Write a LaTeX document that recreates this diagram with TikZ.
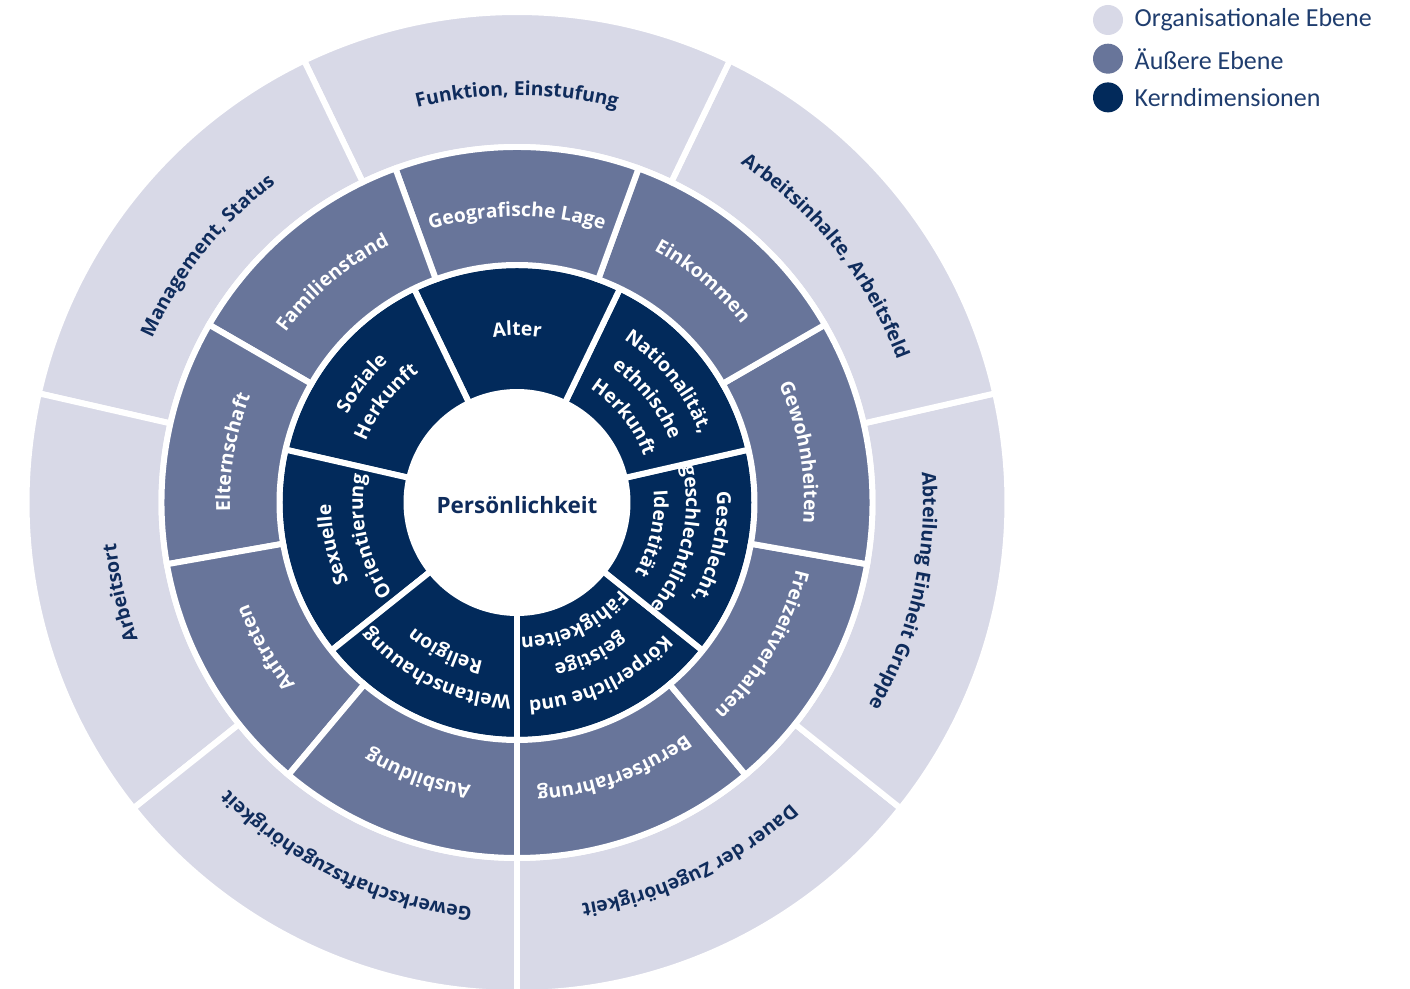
\documentclass[tikz,border=0pt]{standalone}
\usepackage{fontspec}
\setmainfont{Open Sans}
\newfontfamily\legendfont{Carlito}
\usetikzlibrary{positioning,decorations.text}

\definecolor{orgfill}{HTML}{D8D9E7}
\definecolor{outfill}{HTML}{68759A}
\definecolor{corefill}{HTML}{022A5B}
\definecolor{darktext}{HTML}{0F2C5C}
\definecolor{legendtext}{HTML}{1F3D6E}

\newcommand{\labelfont}{\bfseries\fontsize{11}{13}\selectfont}

\tikzset{
  slice/.style={draw=white,line width=3.4pt},
  legdot/.style={shape=circle,inner sep=0pt,minimum size=0.6cm},
  legtext/.style={font=\legendfont\fontsize{14.8}{16}\selectfont,
    text=legendtext,inner sep=0pt}
}

\newcommand{\ringslice}[5]{%
  \filldraw[slice,fill=#1] (#2:#4) arc[start angle=#2,end angle=#3,radius=#4]
    -- (#3:#5) arc[start angle=#3,end angle=#2,radius=#5] -- cycle;}
\newcommand{\arclabel}[4]{%
  \path[decorate,decoration={text along path,text align=center,
      text color=#1,text={|\labelfont|#4}}]
    (#2+70:#3) arc[start angle=#2+70,end angle=#2-70,radius=#3];}

\begin{document}
\begin{tikzpicture}[x=0.02cm,y=0.02cm]
  \useasboundingbox (-517,-486.5) rectangle (893,502.5);

  \foreach \a in {0,...,6} {
    \pgfmathsetmacro\s{-90+\a*360/7}
    \pgfmathsetmacro\e{\s+360/7}
    \ringslice{corefill}{\s}{\e}{110.5}{237.5}
    \ringslice{orgfill}{\s}{\e}{355.5}{490.5}
  }
  \foreach \a in {0,...,8} {
    \pgfmathsetmacro\s{-90+\a*40}
    \ringslice{outfill}{\s}{\s+40}{237.5}{355.5}
  }

  \node (core) [font=\bfseries\fontsize{12.8}{15}\selectfont,text=darktext]
    at (0,-3) {Persönlichkeit};

  \arclabel{darktext}{90}{407}{Funktion, Einstufung}
  \arclabel{darktext}{38.57}{406}{Arbeitsinhalte, Arbeitsfeld}
  \arclabel{darktext}{-12.86}{406}{Abteilung Einheit Gruppe}
  \arclabel{darktext}{-64.29}{407}{Dauer der Zugehörigkeit}
  \arclabel{darktext}{-115.71}{407}{Gewerkschaftszugehörigkeit}
  \arclabel{darktext}{192.86}{403}{Arbeitsort}
  \arclabel{darktext}{141.43}{400}{Management, Status}

  \arclabel{white}{90}{286}{Geografische Lage}
  \arclabel{white}{50}{287}{Einkommen}
  \arclabel{white}{10}{287}{Gewohnheiten}
  \arclabel{white}{-30}{287}{Freizeitverhalten}
  \arclabel{white}{-70}{287}{Berufserfahrung}
  \arclabel{white}{-110}{287}{Ausbildung}
  \arclabel{white}{-150}{287}{Auftreten}
  \arclabel{white}{170}{287}{Elternschaft}
  \arclabel{white}{130}{287}{Familienstand}

  \arclabel{white}{90}{167}{Alter}
  \arclabel{white}{142.5}{191}{Soziale}
  \arclabel{white}{142.5}{163}{Herkunft}
  \arclabel{white}{38.57}{195}{Nationalität,}
  \arclabel{white}{38.57}{165}{ethnische}
  \arclabel{white}{38.57}{135}{Herkunft}
  \arclabel{white}{-12.86}{200}{Geschlecht,}
  \arclabel{white}{-12.86}{169}{geschlechtliche}
  \arclabel{white}{-12.86}{137}{Identität}
  \arclabel{white}{-64.29}{198}{Körperliche und}
  \arclabel{white}{-64.29}{166}{geistige}
  \arclabel{white}{-64.29}{135}{Fähigkeiten}
  \arclabel{white}{-115.71}{193}{Weltanschauung}
  \arclabel{white}{-115.71}{162}{Religion}
  \arclabel{white}{192.86}{186}{Sexuelle}
  \arclabel{white}{192.86}{154}{Orientierung}

  \node (legorg) [legdot,fill=orgfill] at (591,482.5) {};
  \node (legout) [legdot,fill=outfill,below=0.16cm of legorg] {};
  \node (legcore) [legdot,fill=corefill,below=0.16cm of legout] {};
  \node (legorgtext) [legtext,right=0.22cm of legorg] {Organisationale Ebene};
  \node (legouttext) [legtext,right=0.22cm of legout] {Äußere Ebene};
  \node (legcoretext) [legtext,right=0.22cm of legcore] {Kerndimensionen};
\end{tikzpicture}
\end{document}
